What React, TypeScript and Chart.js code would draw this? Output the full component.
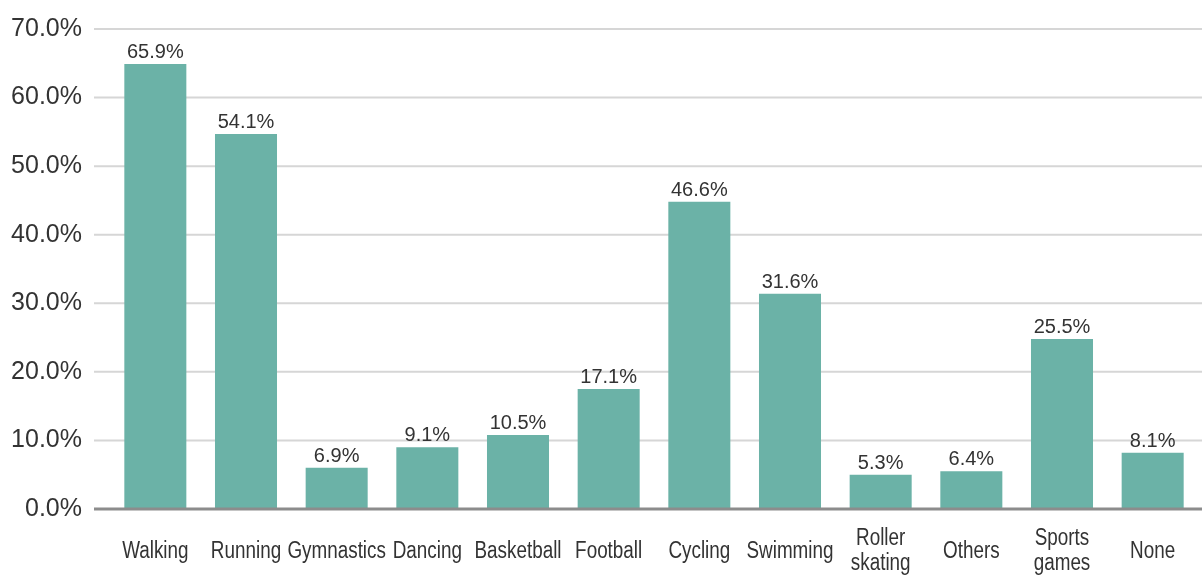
import React, { useEffect, useRef } from "react";
import { Chart, registerables } from "chart.js";

Chart.register(...registerables);

const categories: (string | string[])[] = [
  "Walking",
  "Running",
  "Gymnastics",
  "Dancing",
  "Basketball",
  "Football",
  "Cycling",
  "Swimming",
  ["Roller", "skating"],
  "Others",
  ["Sports", "games"],
  "None",
];

// bar heights as drawn in the picture
const barValues = [64.9, 54.7, 6.0, 9.0, 10.8, 17.5, 44.8, 31.4, 5.0, 5.5, 24.8, 8.2];

// value labels printed above the bars
const valueLabels = [
  "65.9%",
  "54.1%",
  "6.9%",
  "9.1%",
  "10.5%",
  "17.1%",
  "46.6%",
  "31.6%",
  "5.3%",
  "6.4%",
  "25.5%",
  "8.1%",
];

const yMin = 0;
const yMax = 70;
const yStep = 10;

const BAR_COLOR = "#6bb2a7";
const GRID_COLOR = "#d6d6d6";
const BASE_COLOR = "#8c8c8c";
const TEXT_COLOR = "#333333";

const gridPlugin = {
  id: "customGrid",
  beforeDatasetsDraw(chart: any) {
    const { ctx, scales } = chart;
    const y = scales.y;
    ctx.save();
    ctx.strokeStyle = GRID_COLOR;
    ctx.lineWidth = 2;
    y.ticks.forEach((t: any) => {
      if (t.value === 0) return;
      const py = y.getPixelForValue(t.value);
      ctx.beginPath();
      ctx.moveTo(94, py);
      ctx.lineTo(chart.width, py);
      ctx.stroke();
    });
    ctx.restore();
  },
  afterDatasetsDraw(chart: any) {
    const { ctx, scales } = chart;
    const y = scales.y;
    const x = scales.x;
    const py0 = y.getPixelForValue(0);
    ctx.save();
    ctx.strokeStyle = BASE_COLOR;
    ctx.lineWidth = 3;
    ctx.beginPath();
    ctx.moveTo(94, py0);
    ctx.lineTo(chart.width, py0);
    ctx.stroke();

    // value labels above bars
    const meta = chart.getDatasetMeta(0);
    ctx.fillStyle = TEXT_COLOR;
    ctx.font = "20px 'Liberation Sans', Arial, sans-serif";
    ctx.textAlign = "center";
    ctx.textBaseline = "alphabetic";
    meta.data.forEach((bar: any, i: number) => {
      ctx.fillText(valueLabels[i], bar.x, bar.y - 6);
    });

    // category labels (condensed look)
    ctx.font = "23px 'Liberation Sans', Arial, sans-serif";
    const sx = 0.82;
    const lh = 25;
    const center = 549;
    const capHalf = 8.5;
    categories.forEach((cat, i) => {
      const lines = Array.isArray(cat) ? cat : [cat];
      const px = x.getPixelForValue(i);
      const start = center - ((lines.length - 1) * lh) / 2;
      lines.forEach((ln, j) => {
        const by = start + j * lh + capHalf;
        ctx.save();
        ctx.translate(px, by);
        ctx.scale(sx, 1);
        ctx.fillText(ln, 0, 0);
        ctx.restore();
      });
    });
    ctx.restore();
  },
};

export default function App() {
  const canvasRef = useRef<HTMLCanvasElement | null>(null);

  useEffect(() => {
    document.body.style.margin = "0";
    if (!canvasRef.current) return;
    const chart = new Chart(canvasRef.current, {
      type: "bar",
      data: {
        labels: categories,
        datasets: [
          {
            data: barValues,
            backgroundColor: BAR_COLOR,
            borderWidth: 0,
            barPercentage: 0.684,
            categoryPercentage: 1,
          },
        ],
      },
      options: {
        responsive: false,
        animation: false,
        layout: { padding: { top: 29, right: 4, left: 0, bottom: 0 } },
        plugins: {
          legend: { display: false },
          tooltip: { enabled: false },
          title: { display: false },
        },
        scales: {
          x: {
            offset: true,
            grid: { display: false, drawTicks: false },
            border: { display: false },
            ticks: { display: false, autoSkip: false },
            afterFit(scale: any) {
              scale.height = 575 - 509;
              scale.paddingLeft = 0;
              scale.paddingRight = 0;
            },
          },
          y: {
            min: yMin,
            max: yMax,
            grid: { display: false, drawTicks: false },
            border: { display: false },
            ticks: {
              stepSize: yStep,
              color: TEXT_COLOR,
              font: { family: "'Liberation Sans', Arial, sans-serif", size: 25 },
              padding: 28,
              callback: (v: any) => Number(v).toFixed(1) + "%",
            },
            afterFit(scale: any) {
              scale.width = 110;
              scale.paddingTop = 0;
              scale.paddingBottom = 0;
            },
          },
        },
      },
      plugins: [gridPlugin],
    });
    return () => chart.destroy();
  }, []);

  return (
    <div style={{ position: "absolute", left: 0, top: 0, width: 1202, height: 575 }}>
      <canvas ref={canvasRef} width={1202} height={575} />
    </div>
  );
}
